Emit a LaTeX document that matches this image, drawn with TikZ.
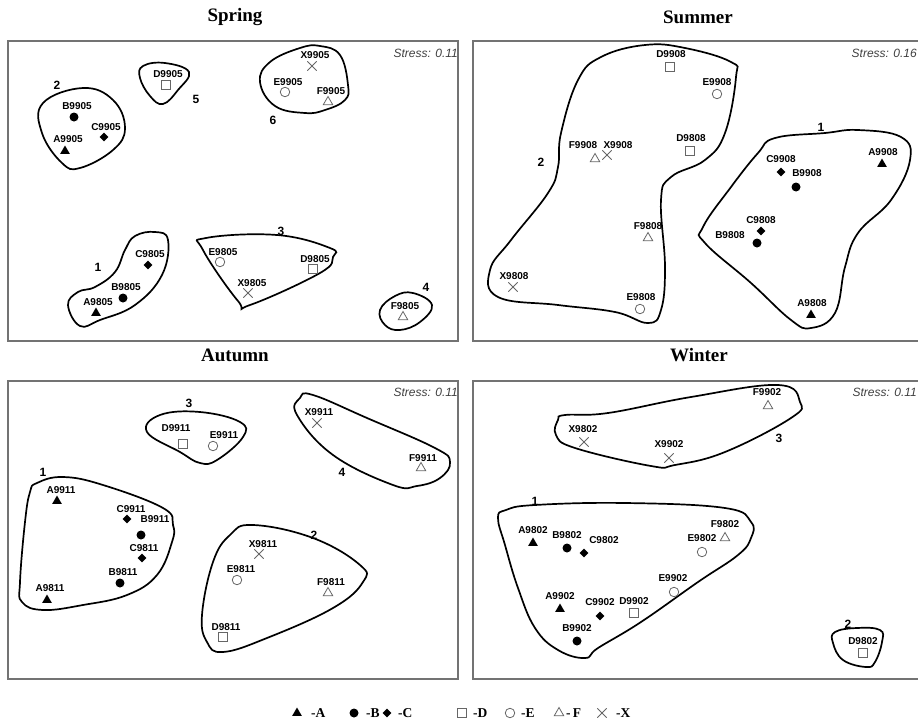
\documentclass[tikz,border=0pt]{standalone}
\usepackage{fontspec}
\setmainfont{Liberation Serif}
\setsansfont{Liberation Sans}
\usetikzlibrary{shapes.geometric,shapes.misc}
\newcommand{\lw}{1.7pt}

\begin{document}
\begin{tikzpicture}[x=1pt,y=-1pt,
    frame/.style={draw=black!55, line width=1.1pt},
    blob/.style={draw, line width=\lw, smooth cycle, tension=0.7},
    title/.style={font=\bfseries\fontsize{19}{21}\selectfont},
    stress/.style={font=\sffamily\itshape\fontsize{12}{14}\selectfont, text=black!75, anchor=east, inner sep=0pt},
    lab/.style={font=\sffamily\bfseries\fontsize{10}{11}\selectfont, inner sep=0pt},
    num/.style={font=\sffamily\bfseries\fontsize{12}{13}\selectfont, inner sep=0pt},
    legtext/.style={font=\bfseries\fontsize{13.5}{15}\selectfont, inner sep=0pt, anchor=west},
    ftri/.style={regular polygon, regular polygon sides=3, fill, minimum size=11pt, inner sep=0pt},
    otri/.style={regular polygon, regular polygon sides=3, draw=black!60, line width=0.8pt, minimum size=11pt, inner sep=0pt},
    fcirc/.style={circle, fill, minimum size=9pt, inner sep=0pt},
    ocirc/.style={circle, draw=black!60, line width=0.8pt, minimum size=9.5pt, inner sep=0pt},
    fdia/.style={diamond, fill, minimum size=9pt, inner sep=0pt},
    osq/.style={rectangle, draw=black!60, line width=0.8pt, minimum size=9pt, inner sep=0pt},
    xmark/.style={cross out, draw=black!60, line width=0.8pt, minimum size=8.5pt, inner sep=0pt}]
    \useasboundingbox (0,0) rectangle (918,723);
    \clip (0,0) rectangle (918,723);

    % Frames and titles
    \draw[frame] (8,41) rectangle (458,341);
    \draw[frame] (473,41) rectangle (930,341);
    \draw[frame] (8,381) rectangle (458,679);
    \draw[frame] (473,381) rectangle (930,679);
    \node[title] (t-spring) at (235,17) {Spring};
    \node[title] (t-summer) at (698,17) {Summer};
    \node[title] (t-autumn) at (235,355) {Autumn};
    \node[title] (t-winter) at (699,355) {Winter};
    \node[stress] (s-spring) at (458,53) {Stress: 0.11};
    \node[stress] (s-summer) at (917,53) {Stress: 0.16};
    \node[stress] (s-autumn) at (458,392) {Stress: 0.11};
    \node[stress] (s-winter) at (917,392) {Stress: 0.11};

    % Spring
    \draw[blob] plot coordinates {(83,88) (113,100) (125,128) (113,150) (80,168) (62,163) (42,133) (43,103)};
    \draw[blob] plot coordinates {(143,66) (165,63) (189,72) (178,90) (163,104) (150,96) (140,78)};
    \draw[blob] plot coordinates {(260,82) (270,62) (300,48) (320,46) (340,55) (348,85) (345,100) (325,110) (305,113) (275,106)};
    \draw[blob] plot coordinates {(68,305) (78,292) (95,287) (115,272) (125,250) (135,236) (155,232) (168,240) (162,275) (135,305) (100,320) (80,326)};
    \draw[blob] plot coordinates {(206,238) (277,235) (330,248) (333,257) (320,273) (250,305) (238,301) (203,250)};
    \draw[blob] plot coordinates {(380,310) (395,296) (413,293) (432,305) (420,322) (400,330) (385,325)};
    \node[ftri] (A9905) at (65,151) {};   \node[lab] (l-A9905) at (68,139) {A9905};
    \node[fcirc] (B9905) at (74,117) {};  \node[lab] (l-B9905) at (77,106) {B9905};
    \node[fdia] (C9905) at (104,137) {};  \node[lab] (l-C9905) at (106,127) {C9905};
    \node[osq] (D9905) at (166,85) {};    \node[lab] (l-D9905) at (168,74) {D9905};
    \node[xmark] (X9905) at (312,66) {};  \node[lab] (l-X9905) at (315,55) {X9905};
    \node[ocirc] (E9905) at (285,92) {};  \node[lab] (l-E9905) at (288,82) {E9905};
    \node[otri] (F9905) at (328,102) {};  \node[lab] (l-F9905) at (331,91) {F9905};
    \node[fdia] (C9805) at (148,265) {};  \node[lab] (l-C9805) at (150,254) {C9805};
    \node[fcirc] (B9805) at (123,298) {}; \node[lab] (l-B9805) at (126,287) {B9805};
    \node[ftri] (A9805) at (96,313) {};   \node[lab] (l-A9805) at (98,302) {A9805};
    \node[ocirc] (E9805) at (220,262) {}; \node[lab] (l-E9805) at (223,252) {E9805};
    \node[osq] (D9805) at (313,269) {};   \node[lab] (l-D9805) at (315,259) {D9805};
    \node[xmark] (X9805) at (248,293) {}; \node[lab] (l-X9805) at (252,283) {X9805};
    \node[otri] (F9805) at (403,317) {};  \node[lab] (l-F9805) at (405,306) {F9805};
    \node[num] (sp-2) at (57,85) {2};
    \node[num] (sp-5) at (196,99) {5};
    \node[num] (sp-6) at (273,120) {6};
    \node[num] (sp-1) at (98,267) {1};
    \node[num] (sp-3) at (281,231) {3};
    \node[num] (sp-4) at (426,287) {4};

    % Summer
    \draw[blob] plot coordinates {(645,45) (685,48) (731,62) (736,77) (725,133) (705,160) (671,177) (661,200) (665,267) (661,310) (648,323) (615,312) (558,305) (498,297) (490,270) (511,240) (548,193) (558,167) (561,133) (578,80) (601,57)};
    \draw[blob] plot coordinates {(775,138) (825,133) (858,130) (901,137) (910,160) (891,200) (858,233) (845,267) (835,313) (811,328) (791,320) (751,283) (705,243) (703,227) (731,187) (758,153)};
    \node[osq] (D9908) at (670,67) {};    \node[lab] (l-D9908) at (671,54) {D9908};
    \node[ocirc] (E9908) at (717,94) {};  \node[lab] (l-E9908) at (717,82) {E9908};
    \node[osq] (D9808) at (690,151) {};   \node[lab] (l-D9808) at (691,138) {D9808};
    \node[otri] (F9908) at (595,159) {};  \node[lab] (l-F9908) at (583,145) {F9908};
    \node[xmark] (X9908) at (607,155) {}; \node[lab] (l-X9908) at (618,145) {X9908};
    \node[otri] (F9808) at (648,238) {};  \node[lab] (l-F9808) at (648,226) {F9808};
    \node[xmark] (X9808) at (513,287) {}; \node[lab] (l-X9808) at (514,276) {X9808};
    \node[ocirc] (E9808) at (640,309) {}; \node[lab] (l-E9808) at (641,297) {E9808};
    \node[fdia] (C9908) at (781,172) {};  \node[lab] (l-C9908) at (781,159) {C9908};
    \node[fcirc] (B9908) at (796,187) {}; \node[lab] (l-B9908) at (807,173) {B9908};
    \node[ftri] (A9908) at (882,164) {};  \node[lab] (l-A9908) at (883,152) {A9908};
    \node[fdia] (C9808) at (761,231) {};  \node[lab] (l-C9808) at (761,220) {C9808};
    \node[fcirc] (B9808) at (757,243) {}; \node[lab] (l-B9808) at (730,235) {B9808};
    \node[ftri] (A9808) at (811,315) {};  \node[lab] (l-A9808) at (812,303) {A9808};
    \node[num] (su-2) at (541,162) {2};
    \node[num] (su-1) at (821,127) {1};

    % Autumn
    \draw[blob] plot coordinates {(147,432) (160,415) (200,412) (240,422) (243,437) (217,460) (200,463) (180,452)};
    \draw[blob] plot coordinates {(300,398) (313,395) (367,418) (435,448) (450,462) (440,478) (417,486) (393,485) (333,455) (297,415)};
    \draw[blob] plot coordinates {(37,483) (63,477) (103,485) (163,508) (173,525) (172,542) (157,575) (127,595) (83,605) (43,610) (22,602) (20,582) (25,522) (30,492)};
    \draw[blob] plot coordinates {(230,535) (253,525) (313,538) (360,565) (363,582) (333,608) (267,638) (223,652) (207,642) (202,615) (213,562)};
    \node[osq] (D9911) at (183,444) {};   \node[lab] (l-D9911) at (176,428) {D9911};
    \node[ocirc] (E9911) at (213,446) {}; \node[lab] (l-E9911) at (224,435) {E9911};
    \node[xmark] (X9911) at (317,423) {}; \node[lab] (l-X9911) at (319,412) {X9911};
    \node[otri] (F9911) at (421,468) {};  \node[lab] (l-F9911) at (423,458) {F9911};
    \node[ftri] (A9911) at (57,501) {};   \node[lab] (l-A9911) at (61,490) {A9911};
    \node[fdia] (C9911) at (127,519) {};  \node[lab] (l-C9911) at (131,509) {C9911};
    \node[fcirc] (B9911) at (141,535) {}; \node[lab] (l-B9911) at (155,519) {B9911};
    \node[fdia] (C9811) at (142,558) {};  \node[lab] (l-C9811) at (144,548) {C9811};
    \node[fcirc] (B9811) at (120,583) {}; \node[lab] (l-B9811) at (123,572) {B9811};
    \node[ftri] (A9811) at (47,600) {};   \node[lab] (l-A9811) at (50,588) {A9811};
    \node[xmark] (X9811) at (259,554) {}; \node[lab] (l-X9811) at (263,544) {X9811};
    \node[ocirc] (E9811) at (237,580) {}; \node[lab] (l-E9811) at (241,569) {E9811};
    \node[otri] (F9811) at (328,593) {};  \node[lab] (l-F9811) at (331,582) {F9811};
    \node[osq] (D9811) at (223,637) {};   \node[lab] (l-D9811) at (226,627) {D9811};
    \node[num] (au-3) at (189,403) {3};
    \node[num] (au-4) at (342,472) {4};
    \node[num] (au-1) at (43,472) {1};
    \node[num] (au-2) at (314,535) {2};

    % Winter
    \draw[blob] plot coordinates {(565,415) (608,413) (691,397) (778,385) (800,402) (791,418) (725,452) (675,465) (651,466) (575,448) (556,435) (558,420)};
    \draw[blob] plot coordinates {(506,510) (535,505) (625,503) (725,508) (751,522) (751,538) (738,555) (698,582) (641,622) (598,648) (585,658) (558,650) (535,628) (518,588) (505,545) (498,518)};
    \draw[blob] plot coordinates {(835,632) (857,628) (880,630) (882,642) (875,662) (866,667) (843,660) (833,643)};
    \node[otri] (F9902) at (768,406) {};  \node[lab] (l-F9902) at (767,392) {F9902};
    \node[xmark] (X9802) at (584,442) {}; \node[lab] (l-X9802) at (583,429) {X9802};
    \node[xmark] (X9902) at (669,458) {}; \node[lab] (l-X9902) at (669,444) {X9902};
    \node[ftri] (A9802) at (533,543) {};  \node[lab] (l-A9802) at (533,530) {A9802};
    \node[fcirc] (B9802) at (567,548) {}; \node[lab] (l-B9802) at (567,535) {B9802};
    \node[fdia] (C9802) at (584,553) {};  \node[lab] (l-C9802) at (604,540) {C9802};
    \node[otri] (F9802) at (725,538) {};  \node[lab] (l-F9802) at (725,524) {F9802};
    \node[ocirc] (E9802) at (702,552) {}; \node[lab] (l-E9802) at (702,538) {E9802};
    \node[ocirc] (E9902) at (674,592) {}; \node[lab] (l-E9902) at (673,578) {E9902};
    \node[ftri] (A9902) at (560,609) {};  \node[lab] (l-A9902) at (560,596) {A9902};
    \node[fdia] (C9902) at (600,616) {};  \node[lab] (l-C9902) at (600,602) {C9902};
    \node[osq] (D9902) at (634,613) {};   \node[lab] (l-D9902) at (634,601) {D9902};
    \node[fcirc] (B9902) at (577,641) {}; \node[lab] (l-B9902) at (577,628) {B9902};
    \node[osq] (D9802) at (863,653) {};   \node[lab] (l-D9802) at (863,641) {D9802};
    \node[num] (wi-3) at (779,438) {3};
    \node[num] (wi-1) at (535,501) {1};
    \node[num] (wi-2) at (848,624) {2};

    % Legend
    \node[ftri] (k-A) at (297,713) {};  \node[legtext] (k-At) at (311,713) {-A};
    \node[fcirc] (k-B) at (354,713) {}; \node[legtext] (k-Bt) at (366,713) {-B};
    \node[fdia] (k-C) at (387,713) {};  \node[legtext] (k-Ct) at (398,713) {-C};
    \node[osq] (k-D) at (462,713) {};   \node[legtext] (k-Dt) at (473,713) {-D};
    \node[ocirc] (k-E) at (510,713) {}; \node[legtext] (k-Et) at (521,713) {-E};
    \node[otri] (k-F) at (559,713) {};  \node[legtext] (k-Ft) at (566,713) {-\,F};
    \node[xmark] (k-X) at (602,713) {}; \node[legtext] (k-Xt) at (616,713) {-X};

\end{tikzpicture}
\end{document}
